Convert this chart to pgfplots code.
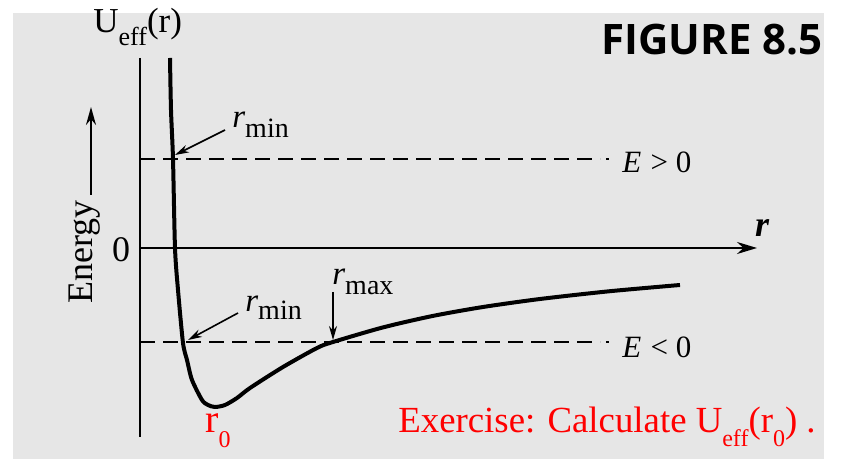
\documentclass[border=0pt]{standalone}
\usepackage{pgfplots}
\pgfplotsset{compat=1.18}
\usepackage{fontspec}
\setmainfont{Liberation Serif}
\newfontfamily\headfont{Open Sans}
\usetikzlibrary{arrows.meta}
\definecolor{panelgray}{HTML}{E6E6E6}

\begin{document}
\begin{tikzpicture}
\begin{axis}[
  x=0.5pt, y=0.5pt,
  xmin=-140, xmax=704, ymin=-211, ymax=248,
  hide axis, clip=false,
]
% page and grey panel
\fill[white] (-140,-211) rectangle (704,248);
\fill[panelgray] (-127,-211) rectangle (684,235);

% energy axis and r axis
\draw[line width=1.2pt] (0,190) -- (0,-189);
\draw[line width=1pt, -{Stealth[length=10pt,width=6pt]}] (0,0) -- (617,0);

% energy levels E>0 and E<0
\draw[line width=1pt, dash pattern=on 7.5pt off 4pt] (0,89) -- (460,89);
\draw[line width=1pt] (466,89) -- (469,89);
\draw[line width=1pt, dash pattern=on 7.5pt off 4pt] (0,-94) -- (460,-94);
\draw[line width=1pt] (466,-94) -- (469,-94);

% effective potential
\addplot[line width=2pt, smooth, tension=0.45] coordinates {
  (30,190) (31,138) (33,89) (35,0) (38,-42) (43,-95) (47,-112)
  (52,-132) (62,-152) (68,-157) (75,-159) (85,-157) (97,-150)
  (110,-140) (143,-119) (177,-100) (193,-94) (243,-79.4) (293,-67.9)
  (343,-59) (400,-51) (470,-43.2) (540,-37)
};

% turning point pointers
\draw[line width=0.8pt, -{Stealth[length=7pt,width=4pt]}] (85,118) -- (35,93);
\draw[line width=0.8pt, -{Stealth[length=7pt,width=4pt]}] (98,-65) -- (48,-92);
\draw[line width=0.8pt, -{Stealth[length=7pt,width=4pt]}] (193,-44) -- (193,-92);

% labels
\node[anchor=base west, inner sep=0] at (92,120)
  {\fontsize{16.5}{16.5}\selectfont\itshape r\raisebox{-5pt}{\upshape\fontsize{14}{14}\selectfont min}};
\node[anchor=base west, inner sep=0] at (105,-64)
  {\fontsize{16.5}{16.5}\selectfont\itshape r\raisebox{-4pt}{\upshape\fontsize{14}{14}\selectfont min}};
\node[anchor=base west, inner sep=0] at (192,-37)
  {\fontsize{16.5}{16.5}\selectfont\itshape r\raisebox{-5pt}{\upshape\fontsize{14}{14}\selectfont max}};

\node[anchor=west, inner sep=0] at (482,86)
  {\fontsize{15.5}{15.5}\selectfont\textit{E}\hspace{0.3em}{>}\hspace{0.25em}0};
\node[anchor=west, inner sep=0] at (482,-99)
  {\fontsize{15.5}{15.5}\selectfont\textit{E}\hspace{0.3em}{<}\hspace{0.25em}0};
\node[inner sep=0] at (622,20) {\fontsize{18}{18}\selectfont\bfseries\itshape r};
\node[inner sep=0] at (-19,-2) {\fontsize{18}{18}\selectfont 0};

% energy arrow with rotated caption
\draw[line width=1pt, -{Stealth[length=9pt,width=5pt]}] (-49,53) -- (-49,141);
\node[rotate=90, inner sep=0] at (-55.5,-4) {\fontsize{18}{18}\selectfont Energy};

\node[anchor=base west, inner sep=0] at (-47,215)
  {\fontsize{17.5}{17.5}\selectfont U\raisebox{-6.5pt}{\fontsize{13}{13}\selectfont eff}(r)};

\node[anchor=base east, inner sep=0] at (683,193)
  {\headfont\bfseries\fontsize{21}{21}\selectfont FIGURE 8.5};

\node[anchor=base west, inner sep=0, text=red] at (65,-185)
  {\fontsize{20}{20}\selectfont r\raisebox{-7.5pt}{\fontsize{12}{12}\selectfont 0}};
\node[anchor=base west, inner sep=0, text=red] at (258,-185)
  {\fontsize{18.4}{18.4}\selectfont Exercise: Calculate U\raisebox{-7pt}{\fontsize{12}{12}\selectfont eff}(r\raisebox{-7pt}{\fontsize{12}{12}\selectfont 0}) .};
\end{axis}
\end{tikzpicture}
\end{document}
